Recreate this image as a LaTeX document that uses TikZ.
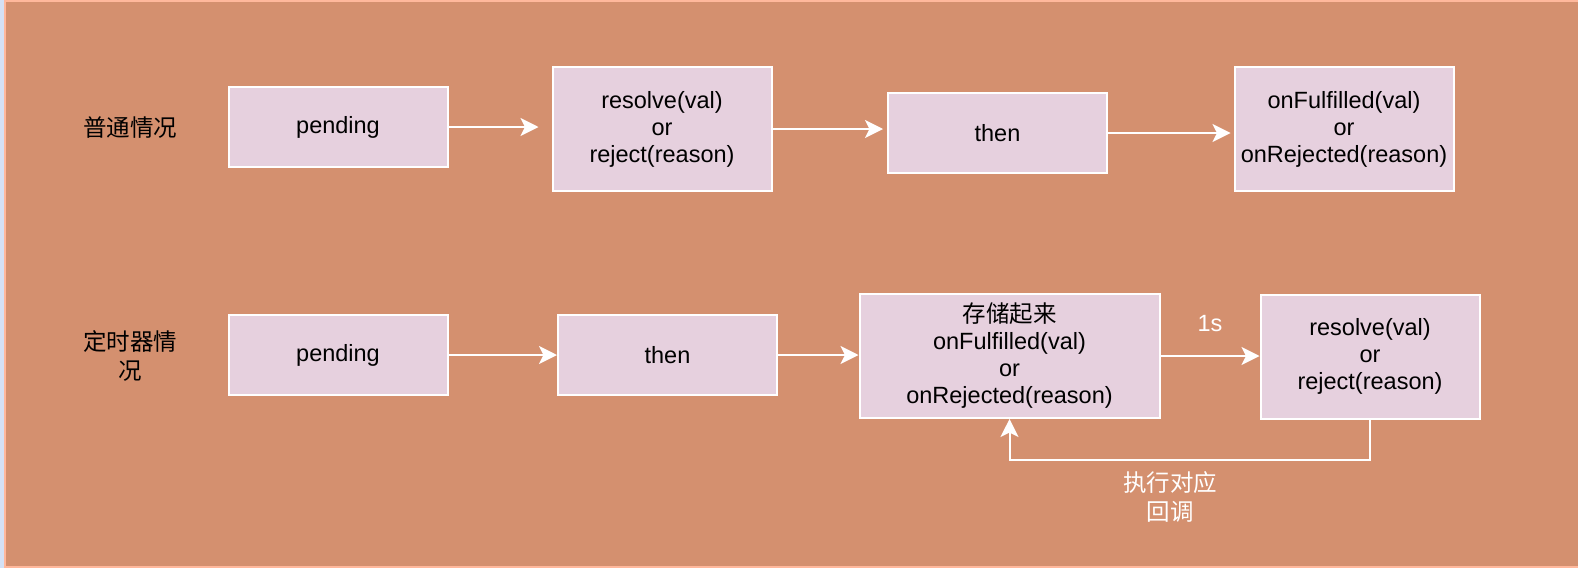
\documentclass[tikz,border=0pt]{standalone}
\usepackage{fontspec}
\setmainfont{Liberation Sans}
\newfontfamily\cjk{Noto Sans CJK SC}
\usetikzlibrary{arrows.meta}
\definecolor{bgorange}{HTML}{D4906F}
\definecolor{bgline}{HTML}{FFB89C}
\definecolor{boxfill}{HTML}{E6D0DE}
\definecolor{stripblue}{HTML}{D4E1F5}

\begin{document}
\begin{tikzpicture}[
  x=1pt, y=-1pt,
  box/.style={rectangle, draw=white, line width=2pt, fill=boxfill, minimum width=219pt, minimum height=80pt, align=center, inner sep=0pt, font=\fontsize{23.5}{27}\selectfont},
  tall/.style={box, minimum height=124pt},
  lbl/.style={font=\fontsize{23.5}{28}\selectfont, align=center},
  cjklbl/.style={align=center, font=\cjk\fontsize{23.5}{28.5}\selectfont},
  arr/.style={draw=white, line width=2pt, -{Stealth[length=18pt, width=18pt, inset=4.5pt]}}
]
\useasboundingbox (0,0) rectangle (1578,568);

% Background
\fill[stripblue] (0,0) rectangle (1578,568);
\draw[bgline, line width=2pt, fill=bgorange] (5,1) rectangle (1582,567);

% Nodes, first row
\node[cjklbl] (case1) at (130,128) {普通情况};
\node[box] (p1) at (338,127) {pending};
\node[tall] (r1) at (662,129) {resolve(val)\\or\\reject(reason)};
\node[box] (t1) at (997.5,133) {then};
\node[tall] (f1) at (1344,129) {onFulfilled(val)\\or\\onRejected(reason)};

% Nodes, second row
\node[cjklbl] (case2) at (130,356) {定时器情\\况};
\node[box] (p2) at (338,355) {pending};
\node[box] (t2) at (667.5,355) {then};
\node[tall, minimum width=300pt] (s2) at (1009.5,356) {{\cjk 存储起来}\\onFulfilled(val)\\or\\onRejected(reason)};
\node[tall] (r2) at (1370,356.5) {resolve(val)\\or\\reject(reason)};
\node[cjklbl, text=white] (callback) at (1170,497) {执行对应\\回调};

% Edges
\draw[arr, shorten >=13pt] (p1.east) -- (p1.east -| r1.west);
\draw[arr, shorten >=4pt] (r1.east) -- (r1.east -| t1.west);
\draw[arr, shorten >=3pt] (t1.east) -- (t1.east -| f1.west);
\draw[arr] (p2.east) -- (p2.east -| t2.west);
\draw[arr] (t2.east) -- (t2.east -| s2.west);
\draw[arr] (s2.east) -- (s2.east -| r2.west) node[lbl, text=white, midway, yshift=32pt] (delay) {1s};
\draw[arr] (r2.south) -- ++(0,40) -| (s2.south);

\end{tikzpicture}
\end{document}
